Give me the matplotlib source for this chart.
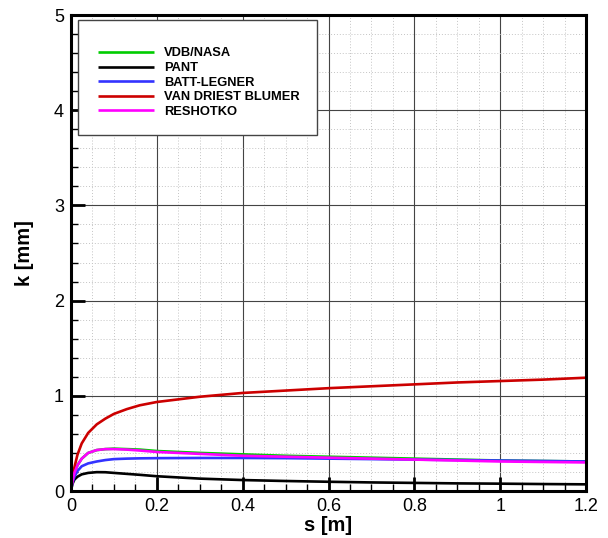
import matplotlib
matplotlib.use("Agg")
import matplotlib.pyplot as plt
from matplotlib.patches import Rectangle
from matplotlib.ticker import MultipleLocator

plt.rcParams['font.family'] = ['Liberation Sans', 'DejaVu Sans']

s = [0, 0.003, 0.008, 0.015, 0.025, 0.04, 0.06, 0.08, 0.1, 0.13, 0.16, 0.2,
     0.3, 0.4, 0.5, 0.6, 0.7, 0.8, 0.9, 1.0, 1.1, 1.2]
k_vdb = [0, 0.10, 0.19, 0.27, 0.34, 0.40, 0.43, 0.44, 0.445, 0.44, 0.435, 0.42,
         0.40, 0.385, 0.37, 0.36, 0.35, 0.34, 0.33, 0.32, 0.315, 0.31]
k_pant = [0, 0.07, 0.12, 0.15, 0.175, 0.19, 0.198, 0.197, 0.19, 0.18, 0.17, 0.155,
          0.13, 0.115, 0.105, 0.097, 0.09, 0.085, 0.08, 0.077, 0.073, 0.07]
k_batt = [0, 0.08, 0.15, 0.21, 0.26, 0.29, 0.31, 0.325, 0.335, 0.34, 0.343, 0.345,
          0.347, 0.347, 0.345, 0.34, 0.335, 0.33, 0.325, 0.32, 0.315, 0.31]
k_vdbl = [0, 0.12, 0.25, 0.38, 0.50, 0.61, 0.70, 0.76, 0.81, 0.86, 0.90, 0.935,
          0.99, 1.03, 1.055, 1.08, 1.10, 1.12, 1.14, 1.155, 1.17, 1.19]
k_resh = [0, 0.10, 0.19, 0.27, 0.34, 0.40, 0.43, 0.44, 0.44, 0.435, 0.425, 0.41,
          0.39, 0.37, 0.36, 0.35, 0.34, 0.33, 0.32, 0.31, 0.305, 0.30]

labels = ["VDB/NASA", "PANT", "BATT-LEGNER", "VAN DRIEST BLUMER", "RESHOTKO"]
colors = ["#00cc00", "#000000", "#3333ff", "#cc0000", "#ff00ff"]
series = [k_vdb, k_pant, k_batt, k_vdbl, k_resh]

fig = plt.figure(figsize=(6.08, 5.38), dpi=100)
ax = fig.add_axes([71/608, 47/538, 515/608, 476/538])

handles = []
for lab, col, ys in zip(labels, colors, series):
    h, = ax.plot(s, ys, color=col, lw=1.9, label=lab, solid_capstyle='butt')
    handles.append(h)

ax.set_xlim(0, 1.2)
ax.set_ylim(0, 5)
ax.xaxis.set_minor_locator(MultipleLocator(0.05))
ax.yaxis.set_minor_locator(MultipleLocator(0.2))
ax.set_xticks([0, 0.2, 0.4, 0.6, 0.8, 1.0, 1.2])
ax.set_xticklabels(["0", "0.2", "0.4", "0.6", "0.8", "1", "1.2"])
ax.set_yticks([0, 1, 2, 3, 4, 5])
ax.set_yticklabels(["0", "1", "2", "3", "4", "5"])

ax.grid(which='major', color='#444444', lw=0.8, ls='-')
ax.grid(which='minor', color='#c4c4c4', lw=0.7, ls=(0, (1, 2)))
ax.set_axisbelow(True)

ax.tick_params(which='major', direction='in', length=10, width=2,
               labelsize=13, top=False, right=False, pad=5)
ax.tick_params(which='minor', direction='in', length=5, width=1,
               top=False, right=False)
for sp in ax.spines.values():
    sp.set_linewidth(2.2)

ax.set_xlabel("s [m]", fontsize=14.5, fontweight='bold', labelpad=1)
ax.set_ylabel("k [mm]", fontsize=14.5, fontweight='bold', labelpad=14)

# legend box
rect = Rectangle((78/608, (538-135)/538), (317-78)/608, (135-20)/538,
                 transform=fig.transFigure, facecolor='white',
                 edgecolor='#444444', lw=1.0, zorder=5)
ax.add_artist(rect)
rect.set_clip_on(False)
leg = ax.legend(handles=handles, loc='upper left',
                bbox_to_anchor=(92/608, (538-41)/538),
                bbox_transform=fig.transFigure, frameon=False,
                prop={'weight': 'bold', 'size': 9.3}, handlelength=4.3,
                handletextpad=0.75, labelspacing=0.2, borderpad=0)
leg.set_zorder(6)

fig.savefig("out.png", dpi=100)
